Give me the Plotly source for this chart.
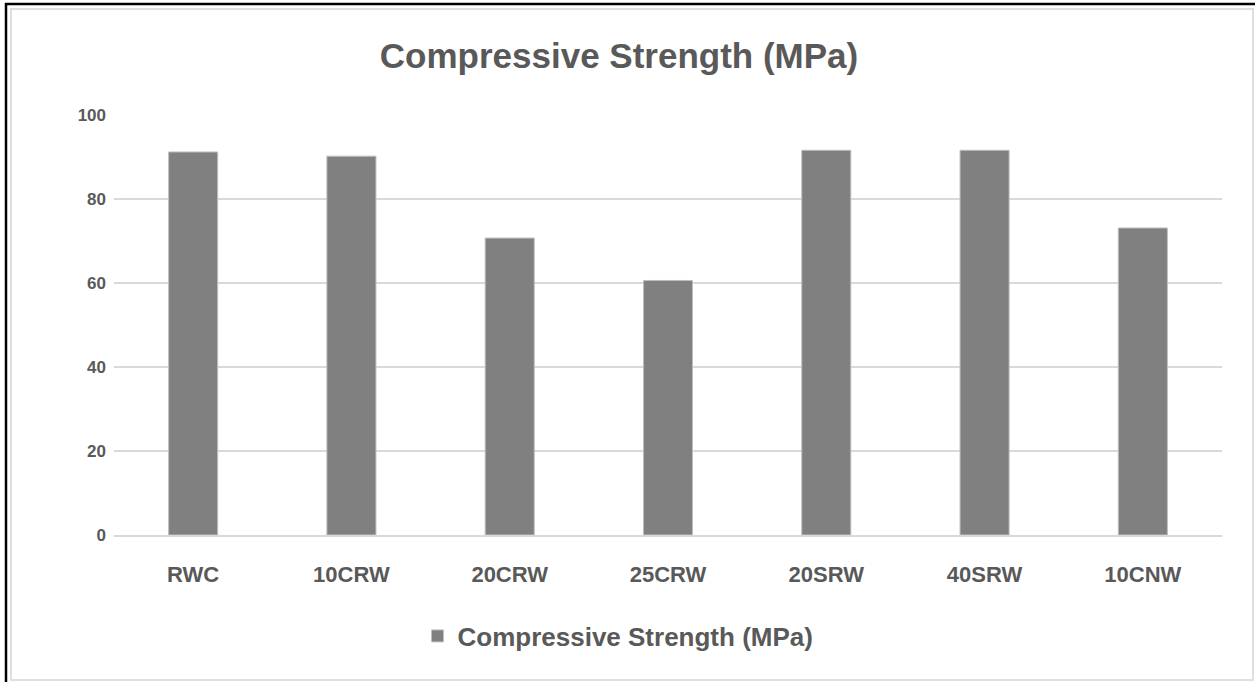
import plotly.graph_objects as go

categories = ["RWC", "10CRW", "20CRW", "25CRW", "20SRW", "40SRW", "10CNW"]
strength = [91.2, 90.2, 70.7, 60.6, 91.6, 91.6, 73.1]
series_name = "Compressive Strength (MPa)"
title_text = "Compressive Strength (MPa)"
y_ticks = [0, 20, 40, 60, 80, 100]

W, H = 1255, 682
L, R, T, B = 114, 33, 115, 147
pw, ph = W - L - R, H - T - B

def px(x):
    return (x - L) / pw

def py(y):
    return (H - B - y) / ph

fig = go.Figure()
fig.add_trace(go.Bar(
    x=categories, y=strength, name=series_name,
    marker=dict(color="#808080", line=dict(color="#bfbfbf", width=1)),
    showlegend=True,
))

fig.update_layout(
    width=W, height=H,
    margin=dict(l=L, r=R, t=T, b=B),
    paper_bgcolor="white", plot_bgcolor="white",
    bargap=0.69,
    font=dict(family="Liberation Sans, Arial, sans-serif", color="#595959"),
    title=dict(text=title_text, x=619 / W, xanchor="center", xref="container",
               y=1 - 56 / H, yanchor="middle", yref="container",
               font=dict(size=35, color="#595959", weight="bold")),
    showlegend=True,
    legend=dict(orientation="h", x=px(618), xanchor="center", y=py(636), yanchor="middle",
                font=dict(size=26, color="#595959", weight="bold"),
                itemwidth=30, bgcolor="rgba(0,0,0,0)"),
    xaxis=dict(showgrid=False, showline=True, linecolor="#d9d9d9", linewidth=1.5,
               ticks="", ticklabelstandoff=19,
               tickfont=dict(size=22, color="#595959", weight="bold")),
    yaxis=dict(range=[0, 100], tickvals=y_ticks, showgrid=True, gridcolor="#d9d9d9",
               gridwidth=1.5, zeroline=False, showline=False, ticks="",
               ticklabelstandoff=7,
               tickfont=dict(size=17, color="#595959", weight="bold")),
    shapes=[
        dict(type="rect", xref="paper", yref="paper", x0=px(11), x1=px(1253), y0=py(680), y1=py(9),
             line=dict(color="#e0e0e0", width=2), layer="below"),
        dict(type="line", xref="paper", yref="paper", x0=px(5), x1=px(1255), y0=py(4), y1=py(4),
             line=dict(color="black", width=2.5)),
        dict(type="line", xref="paper", yref="paper", x0=px(6), x1=px(6), y0=py(3), y1=py(682),
             line=dict(color="black", width=2.5)),
    ],
)

fig.write_html("out.html", config={"displayModeBar": False},
               post_script="document.body.style.margin='0';document.body.style.overflow='hidden';")
